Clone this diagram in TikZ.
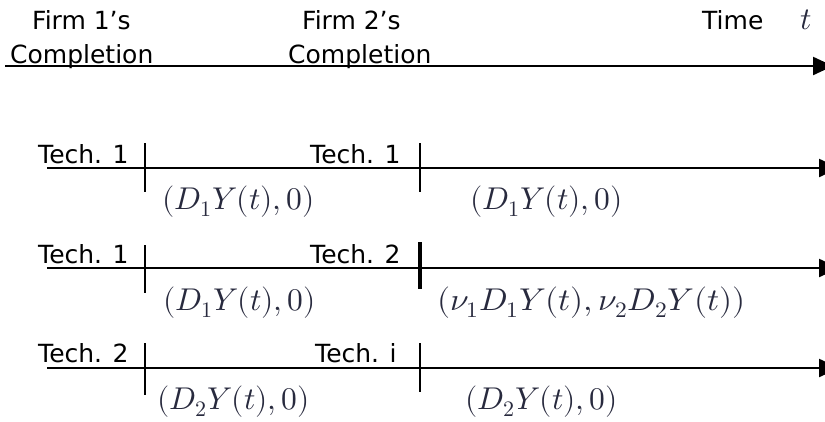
\documentclass[tikz,border=0pt]{standalone}
\usepackage{graphicx}
\usepackage{fontspec}
\setmainfont{DejaVu Sans}
\usepackage{unicode-math}
\setmathfont{Latin Modern Math}
\usetikzlibrary{arrows.meta}
\definecolor{mathcol}{RGB}{40,42,62}
\tikzset{
  lbl/.style={inner sep=0pt,anchor=base west,font=\fontsize{25}{29}\selectfont},
  mlbl/.style={inner sep=0pt,anchor=base west,text=mathcol,font=\fontsize{31.5}{36}\selectfont},
  axis/.style={line width=2.3pt,-{Triangle[length=20pt,width=18pt]}},
  tick/.style={line width=2.2pt},
  thicktick/.style={line width=4pt}
}
\begin{document}
\begin{tikzpicture}[x=1pt,y=-1pt]
\useasboundingbox (0,0) rectangle (825,421);
% top axis
\coordinate (a0s) at (5,66);
\coordinate (a0e) at (833,66);
\draw[axis] (a0s) -- (a0e);
\node[lbl] (f1a) at (32,29) {Firm 1’s};
\node[lbl] (f1b) at (10,63) {Completion};
\node[lbl] (f2a) at (302,29) {Firm 2’s};
\node[lbl] (f2b) at (288,63) {Completion};
\node[lbl] (time) at (702,29) {Time};
\node[mlbl] (tt) at (800,29) {$t$};
% row 1
\coordinate (r1s) at (47,168);
\coordinate (r1e) at (839,168);
\draw[axis] (r1s) -- (r1e);
\coordinate (t11a) at (145,143); \coordinate (t11b) at (145,192);
\coordinate (t12a) at (420,143); \coordinate (t12b) at (420,192);
\draw[tick] (t11a) -- (t11b);
\draw[tick] (t12a) -- (t12b);
\node[lbl] (r1l) at (38,163) {Tech. 1};
\node[lbl] (r1r) at (310,163) {Tech. 1};
\node[mlbl] (r1m1) at (162,209) {$(D_1Y(t),0)$};
\node[mlbl] (r1m2) at (470,209) {$(D_1Y(t),0)$};
% row 2
\coordinate (r2s) at (47,268);
\coordinate (r2e) at (839,268);
\draw[axis] (r2s) -- (r2e);
\coordinate (t21a) at (145,245); \coordinate (t21b) at (145,293);
\coordinate (t22a) at (420,242); \coordinate (t22b) at (420,289);
\draw[tick] (t21a) -- (t21b);
\draw[thicktick] (t22a) -- (t22b);
\node[lbl] (r2l) at (38,263) {Tech. 1};
\node[lbl] (r2r) at (310,263) {Tech. 2};
\node[mlbl] (r2m1) at (163,310) {$(D_1Y(t),0)$};
\node[mlbl] (r2m2) at (437,310) {\scalebox{1.065}[1]{$(\nu_1D_1Y(t),\nu_2D_2Y(t))$}};
% row 3
\coordinate (r3s) at (47,368);
\coordinate (r3e) at (839,368);
\draw[axis] (r3s) -- (r3e);
\coordinate (t31a) at (145,343); \coordinate (t31b) at (145,395);
\coordinate (t32a) at (420,343); \coordinate (t32b) at (420,392);
\draw[tick] (t31a) -- (t31b);
\draw[tick] (t32a) -- (t32b);
\node[lbl] (r3l) at (38,362) {Tech. 2};
\node[lbl] (r3r) at (315,362) {Tech. i};
\node[mlbl] (r3m1) at (157,409) {$(D_2Y(t),0)$};
\node[mlbl] (r3m2) at (465,409) {$(D_2Y(t),0)$};
\end{tikzpicture}
\end{document}
